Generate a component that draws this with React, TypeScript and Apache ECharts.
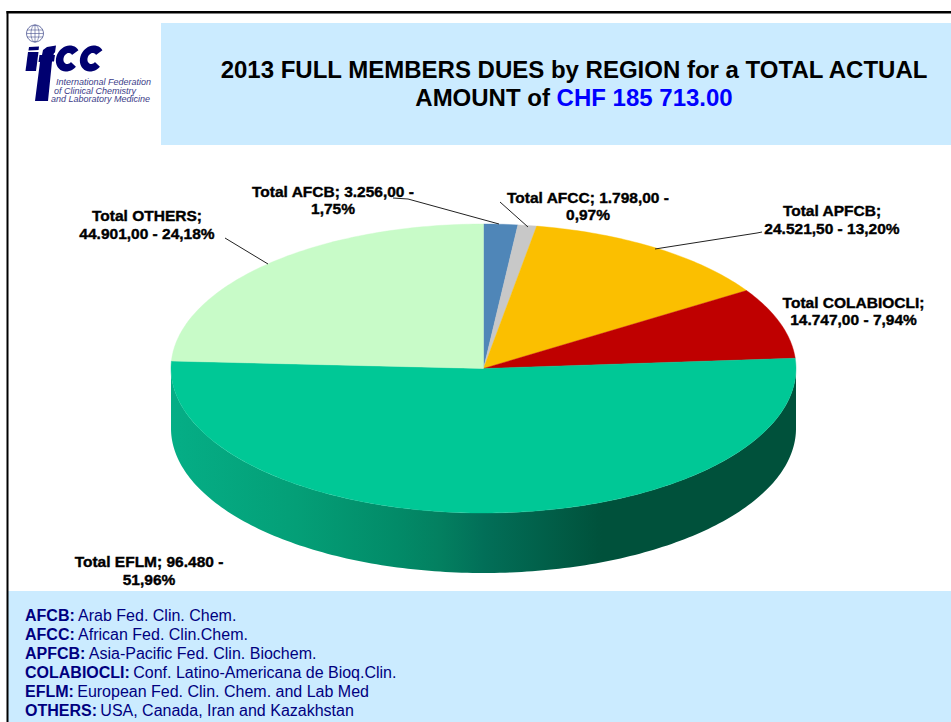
import React, { useEffect, useRef } from "react";
import * as echarts from "echarts";

const regions = ["AFCB", "AFCC", "APFCB", "COLABIOCLI", "EFLM", "OTHERS"];
const dues = [3256, 1798, 24521.5, 14747, 96480, 44901];
const sliceLabels = [
  "Total AFCB; 3.256,00 -\n1,75%",
  "Total AFCC; 1.798,00 -\n0,97%",
  "Total APFCB;\n24.521,50 - 13,20%",
  "Total COLABIOCLI;\n14.747,00 - 7,94%",
  "Total EFLM; 96.480 -\n51,96%",
  "Total OTHERS;\n44.901,00 - 24,18%",
];
const sliceColors = ["#4f86b8", "#c8c8c8", "#fbbf00", "#bf0000", "#00c896", "#c8fbc8"];
const legendBold = ["AFCB:", "AFCC:", "APFCB:", "COLABIOCLI:", "EFLM:", "OTHERS:"];
const legendText = [
  "Arab Fed. Clin. Chem.",
  "African Fed. Clin.Chem.",
  "Asia-Pacific Fed. Clin. Biochem.",
  "Conf. Latino-Americana de Bioq.Clin.",
  "European Fed. Clin. Chem. and Lab Med",
  "USA, Canada, Iran and Kazakhstan",
];
const logoLines = ["International Federation", "of Clinical Chemistry", "and Laboratory Medicine"];

// layout only
const CX = 483.5, CY = 368.5, RX = 312.5, RY = 144.5, DEPTH = 60;
const labelCenters = [[333, 200], [588, 206], [832, 219.5], [853.5, 311], [149, 570.5], [147, 224.5]];
const leaders = [
  [[393, 198], [408, 199], [499, 224]],
  [[500, 202], [528, 227]],
  [[762, 232], [757, 233], [655, 249]],
  [],
  [],
  [[225, 238], [268, 264]],
];
const FONT = '"Liberation Sans", Arial, sans-serif';
const wallStops = [
  { offset: 0, color: "#05ae86" },
  { offset: 0.2, color: "#049f77" },
  { offset: 0.36, color: "#028b68" },
  { offset: 0.43, color: "#038060" },
  { offset: 0.5, color: "#026f58" },
  { offset: 0.69, color: "#00513b" },
  { offset: 1, color: "#00513b" },
];

const total = dues.reduce((a, b) => a + b, 0);
let running = 0;
const rows = dues.map((v, i) => {
  const row = { name: regions[i], value: [v, running, running + v, i] };
  running += v;
  return row;
});

const pt = (a: number, dy = 0) => [CX + RX * Math.sin(a), CY - RY * Math.cos(a) + dy];

// sheared "c" letterform of the logo
function logoC(cx: number, cy: number) {
  const outer: number[][] = [], inner: number[][] = [];
  const open = 0.7;
  const n = 32;
  for (let k = 0; k <= n; k++) {
    const a = open + ((Math.PI * 2 - 2 * open) * k) / n;
    const shear = (y: number) => (cy - y) * 0.15;
    const oy = cy + 13 * Math.sin(a);
    const iy = cy + 5.5 * Math.sin(a);
    outer.push([cx + 12 * Math.cos(a) + shear(oy), oy]);
    inner.unshift([cx + 4.5 * Math.cos(a) + shear(iy), iy]);
  }
  return outer.concat(inner);
}

function renderSlice(_p: any, api: any) {
  const start = (api.value(1) / total) * Math.PI * 2;
  const end = (api.value(2) / total) * Math.PI * 2;
  const i = api.value(3);
  const children: any[] = [];
  const fStart = Math.max(start, Math.PI / 2);
  const fEnd = Math.min(end, (Math.PI * 3) / 2);
  if (fEnd > fStart) {
    const upper: number[][] = [], lower: number[][] = [];
    const n = 180;
    for (let k = 0; k <= n; k++) {
      const a = fStart + ((fEnd - fStart) * k) / n;
      upper.push(pt(a));
      lower.unshift(pt(a, DEPTH));
    }
    children.push({
      type: "polygon",
      shape: { points: upper.concat(lower) },
      style: { fill: new echarts.graphic.LinearGradient(0, 0, 1, 0, wallStops) },
    });
  }
  const pts: number[][] = [[CX, CY]];
  const steps = Math.max(4, Math.ceil((end - start) * 60));
  for (let k = 0; k <= steps; k++) pts.push(pt(start + ((end - start) * k) / steps));
  children.push({
    type: "polygon",
    shape: { points: pts },
    style: { fill: sliceColors[i], stroke: sliceColors[i], lineWidth: 0.4 },
  });
  if (leaders[i].length) {
    children.push({
      type: "polyline",
      shape: { points: leaders[i] },
      style: { stroke: "#222222", lineWidth: 1, fill: "none" },
      z2: 5,
    });
  }
  children.push({
    type: "text",
    x: labelCenters[i][0],
    y: labelCenters[i][1],
    z2: 6,
    style: {
      text: sliceLabels[i],
      fill: "#000000",
      font: `bold 15.5px ${FONT}`,
      lineHeight: 17.5,
      align: "center",
      verticalAlign: "middle",
      stroke: "#000000",
      lineWidth: 0.4,
    },
  });
  return { type: "group", children };
}

export default function App() {
  const ref = useRef<HTMLDivElement>(null);
  useEffect(() => {
    const chart = echarts.init(ref.current!, undefined, { renderer: "svg" });
    const navy = "#000080";
    chart.setOption({
      animation: false,
      backgroundColor: "#ffffff",
      title: {
        left: 569,
        top: 50,
        textAlign: "center",
        z: 5,
        text: "2013 FULL MEMBERS DUES by REGION for a TOTAL ACTUAL\nAMOUNT of {b|CHF 185 713.00}",
        textStyle: {
          fontFamily: FONT,
          fontWeight: "bold",
          fontSize: 24,
          lineHeight: 28.5,
          color: "#000000",
          rich: {
            b: { fontFamily: FONT, fontWeight: "bold", fontSize: 24, lineHeight: 28.5, color: "#0000ff" },
          },
        },
      },
      graphic: [
        { type: "rect", z: -2, shape: { x: 161, y: 23, width: 790, height: 122 }, style: { fill: "#cbebff" } },
        { type: "rect", z: -2, shape: { x: 8, y: 591, width: 943, height: 131 }, style: { fill: "#cbebff" } },
        { type: "rect", z: -1, shape: { x: 6.5, y: 11, width: 944.5, height: 2.6 }, style: { fill: "#000000" } },
        { type: "rect", z: -1, shape: { x: 6.5, y: 11, width: 2, height: 711 }, style: { fill: "#000000" } },
        // logo globe
        { type: "circle", z: 3, shape: { cx: 35, cy: 33.5, r: 8.5 }, style: { fill: "#ffffff", stroke: "#46508f", lineWidth: 0.8 } },
        { type: "ellipse", z: 3, shape: { cx: 35, cy: 33.5, rx: 4, ry: 8.5 }, style: { fill: "none", stroke: "#46508f", lineWidth: 0.6 } },
        { type: "line", z: 3, shape: { x1: 35, y1: 25, x2: 35, y2: 42 }, style: { stroke: "#46508f", lineWidth: 0.6 } },
        { type: "line", z: 3, shape: { x1: 27, y1: 30, x2: 43, y2: 30 }, style: { stroke: "#46508f", lineWidth: 0.6 } },
        { type: "line", z: 3, shape: { x1: 26.5, y1: 33.5, x2: 43.5, y2: 33.5 }, style: { stroke: "#46508f", lineWidth: 0.6 } },
        { type: "line", z: 3, shape: { x1: 27, y1: 37, x2: 43, y2: 37 }, style: { stroke: "#46508f", lineWidth: 0.6 } },
        // logo letterforms
        { type: "polygon", z: 3, shape: { points: [[29, 47], [39, 46.5], [38.6, 50], [28.5, 50.5]] }, style: { fill: "#000070" } },
        { type: "polygon", z: 3, shape: { points: [[28, 52], [38.5, 52], [36, 71], [25.5, 71]] }, style: { fill: "#000070" } },
        { type: "polygon", z: 3, shape: { points: [[47, 47], [56, 45.5], [55, 52.5], [54, 53], [53.5, 55], [55, 55], [54, 61.5], [52, 61.5], [48, 101], [35, 101], [40, 62], [38.5, 62], [39.5, 55], [42, 55], [43, 50]] }, style: { fill: "#000070" } },
        { type: "polygon", z: 3, shape: { points: logoC(68, 58.5) }, style: { fill: "#000070" } },
        { type: "polygon", z: 3, shape: { points: logoC(92, 58.5) }, style: { fill: "#000070" } },
        ...logoLines.map((t, i) => ({
          type: "text", z: 3, x: [56, 54, 51][i], y: [82, 90.5, 99][i],
          style: { text: t, fill: "#3c3c88", font: `italic 9px ${FONT}`, align: "left", verticalAlign: "middle" },
        })),
        ...legendBold.map((b, i) => ({
          type: "text", z: 3, x: 25, y: 615 + i * 19,
          style: {
            text: `{b|${b}} {r|${legendText[i]}}`,
            align: "left",
            verticalAlign: "middle",
            rich: {
              b: { font: `bold 16px ${FONT}`, fill: navy },
              r: { font: `16px ${FONT}`, fill: navy },
            },
          },
        })),
      ],
      series: [
        {
          type: "custom",
          coordinateSystem: "none",
          silent: true,
          clip: false,
          renderItem: renderSlice,
          data: rows,
        },
      ],
    });
    return () => chart.dispose();
  }, []);
  return <div ref={ref} style={{ position: "fixed", left: 0, top: 0, width: 951, height: 722 }} />;
}
